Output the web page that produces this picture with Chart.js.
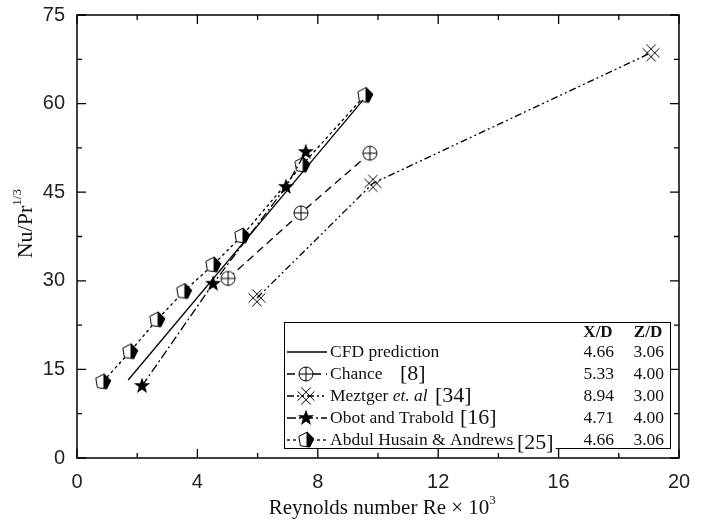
<!DOCTYPE html>
<html>
<head>
<meta charset="utf-8">
<script src="https://cdn.jsdelivr.net/npm/chart.js@4.4.0/dist/chart.umd.min.js"></script>
<style>
  html, body { margin: 0; padding: 0; background: #fff; }
  #wrap { width: 704px; height: 522px; }
</style>
</head>
<body>
<div id="wrap"><canvas id="chart" width="704" height="522"></canvas></div>
<script>
// Datos (Re x 10^3, Nu/Pr^1/3)
const cfdRe = [1.7, 9.5];
const cfdNu = [13.2, 60.6];

const chanceRe = [5.02, 7.44, 9.73];
const chanceNu = [30.4, 41.5, 51.6];

const meztgerRe = [5.98, 9.83, 19.07];
const meztgerNu = [27.1, 46.5, 68.6];

const obotRe = [2.16, 4.52, 6.94, 7.6];
const obotNu = [12.2, 29.5, 45.9, 51.8];

const abdulRe = [0.86, 1.76, 2.66, 3.55, 4.52, 5.48, 7.48, 9.57];
const abdulNu = [12.9, 18.0, 23.4, 28.2, 32.7, 37.6, 49.6, 61.4];

const xTicks = [0, 4, 8, 12, 16, 20];
const yTicks = [0, 15, 30, 45, 60, 75];

// Tabla de la leyenda: X/D y Z/D
const legendXD = ['4.66', '5.33', '8.94', '4.71', '4.66'];
const legendZD = ['3.06', '4.00', '3.00', '4.00', '3.06'];

// Marcadores dibujados en canvas pequeños
function makeMarker(draw, size) {
    const c = document.createElement('canvas');
    c.width = size; c.height = size;
    const g = c.getContext('2d');
    g.translate(size / 2, size / 2);
    g.strokeStyle = '#000';
    g.fillStyle = '#000';
    g.lineWidth = 1;
    draw(g);
    return c;
}

const crossCircle = makeMarker(g => {
    g.beginPath(); g.arc(0, 0, 7, 0, Math.PI * 2);
    g.fillStyle = '#fff'; g.fill(); g.stroke();
    g.beginPath();
    g.moveTo(-7, 0); g.lineTo(7, 0);
    g.moveTo(0, -7); g.lineTo(0, 7);
    g.stroke();
}, 18);

// rejilla en diamante: dos rectas por dirección recortadas a un cuadrado
const doubleX = makeMarker(g => {
    const h = 8.5, k = 3.8;
    g.save();
    g.beginPath(); g.rect(-h, -h, 2 * h, 2 * h); g.clip();
    g.beginPath();
    [-k, k].forEach(c => {
        g.moveTo(-h - 2, -h - 2 + c); g.lineTo(h + 2, h + 2 + c);
        g.moveTo(-h - 2, h + 2 + c); g.lineTo(h + 2, -h - 2 + c);
    });
    g.stroke();
    g.restore();
}, 22);

const star = makeMarker(g => {
    g.beginPath();
    for (let i = 0; i < 10; i++) {
        const r = i % 2 === 0 ? 8.5 : 3.4;
        const a = -Math.PI / 2 + i * Math.PI / 5;
        g.lineTo(r * Math.cos(a), r * Math.sin(a));
    }
    g.closePath(); g.fill();
}, 20);

const halfPentagon = makeMarker(g => {
    const pts = [];
    for (let i = 0; i < 5; i++) {
        const a = -Math.PI / 2 + 0.15 + i * 2 * Math.PI / 5;
        pts.push([8 * Math.cos(a), 8 * Math.sin(a)]);
    }
    const path = () => { g.beginPath(); pts.forEach(p => g.lineTo(p[0], p[1])); g.closePath(); };
    path(); g.fillStyle = '#fff'; g.fill();
    g.save(); g.beginPath(); g.rect(0.5, -10, 10, 20); g.clip();
    path(); g.fillStyle = '#000'; g.fill(); g.restore();
    path(); g.stroke();
}, 20);

function toPoints(xs, ys) {
    return xs.map((x, i) => ({ x: x, y: ys[i] }));
}

const series = [
    { label: 'CFD prediction', xs: cfdRe, ys: cfdNu, dash: [], marker: null },
    { label: 'Chance', xs: chanceRe, ys: chanceNu, dash: [8, 5], marker: crossCircle },
    { label: 'Meztger et. al', xs: meztgerRe, ys: meztgerNu, dash: [7, 3, 2, 3, 2, 3], marker: doubleX },
    { label: 'Obot and Trabold', xs: obotRe, ys: obotNu, dash: [9, 3, 2, 3], marker: star },
    { label: 'Abdul Husain & Andrews', xs: abdulRe, ys: abdulNu, dash: [3, 3], marker: halfPentagon }
];

const datasets = series.map(s => ({
    label: s.label,
    data: toPoints(s.xs, s.ys),
    showLine: true,
    borderColor: '#000',
    backgroundColor: '#000',
    borderWidth: 1.3,
    borderDash: s.dash,
    pointStyle: s.marker || 'circle',
    pointRadius: s.marker ? 8 : 0,
    pointHoverRadius: s.marker ? 8 : 0,
    tension: 0
}));

// Marco, marcas hacia dentro, títulos y leyenda tipo tabla
const decorations = {
    id: 'decorations',
    afterDraw(chart) {
        const ctx = chart.ctx;
        const xs = chart.scales.x, ys = chart.scales.y;
        const L = xs.left, R = xs.right, T = ys.top, B = ys.bottom;
        ctx.save();
        ctx.strokeStyle = '#000';
        ctx.lineWidth = 1.5;
        ctx.strokeRect(L, T, R - L, B - T);

        ctx.lineWidth = 1.3;
        ctx.beginPath();
        for (let v = 0; v <= 20; v += 2) {
            const p = xs.getPixelForValue(v);
            const len = v % 4 === 0 ? 9 : 5;
            ctx.moveTo(p, B); ctx.lineTo(p, B - len);
            ctx.moveTo(p, T); ctx.lineTo(p, T + len);
        }
        for (let v = 0; v <= 75; v += 7.5) {
            const p = ys.getPixelForValue(v);
            const len = v % 15 === 0 ? 9 : 5;
            ctx.moveTo(L, p); ctx.lineTo(L + len, p);
            ctx.moveTo(R, p); ctx.lineTo(R - len, p);
        }
        ctx.stroke();

        // Título eje X
        ctx.fillStyle = '#111';
        ctx.textBaseline = 'alphabetic';
        ctx.font = '21px "Liberation Serif"';
        const xt = 'Reynolds number Re \u00d7 10';
        const w = ctx.measureText(xt).width;
        const cx = (L + R) / 2 + 4;
        ctx.textAlign = 'left';
        ctx.fillText(xt, cx - w / 2 - 3, 514);
        ctx.font = '13px "Liberation Serif"';
        ctx.fillText('3', cx + w / 2 - 3, 504);

        // Título eje Y
        ctx.save();
        ctx.translate(32, 224);
        ctx.rotate(-Math.PI / 2);
        ctx.font = '22px "Liberation Serif"';
        const yt = 'Nu/Pr';
        const yw = ctx.measureText(yt).width;
        ctx.fillText(yt, -yw / 2 - 8, 0);
        ctx.font = '13px "Liberation Serif"';
        ctx.fillText('1/3', yw / 2 - 8, -11);
        ctx.restore();

        // Leyenda
        const bx = 284, by = 322, bw = 386, bh = 126;
        ctx.fillStyle = '#fff';
        ctx.fillRect(bx, by, bw, bh);
        ctx.lineWidth = 1;
        ctx.strokeStyle = '#000';
        ctx.strokeRect(bx + 0.5, by + 0.5, bw, bh);

        ctx.fillStyle = '#111';
        ctx.textBaseline = 'middle';
        ctx.font = 'bold 17px "Liberation Serif"';
        ctx.textAlign = 'center';
        ctx.fillText('X/D', 598, 333);
        ctx.fillText('Z/D', 648, 333);

        const refs = ['', '[8]', '[34]', '[16]', '[25]'];
        const refX = [0, 400, 435, 460, 517];
        series.forEach((s, i) => {
            const y = 352 + i * 22;
            ctx.setLineDash(s.dash);
            ctx.lineWidth = 1.3;
            ctx.beginPath(); ctx.moveTo(287, y); ctx.lineTo(327, y); ctx.stroke();
            ctx.setLineDash([]);
            if (s.marker) ctx.drawImage(s.marker, 306 - s.marker.width / 2, y - s.marker.height / 2);
            ctx.textAlign = 'left';
            ctx.font = '17.5px "Liberation Serif"';
            if (i === 2) {
                ctx.fillText('Meztger ', 330, y);
                const mw = ctx.measureText('Meztger ').width;
                ctx.font = 'italic 17.5px "Liberation Serif"';
                ctx.fillText('et. al', 330 + mw, y);
            } else {
                ctx.fillText(s.label, 330, y);
            }
            if (refs[i]) {
                ctx.font = '22px "Liberation Serif"';
                const ry = i === 4 ? y + 3 : y;
                if (i === 4) {
                    const rw = ctx.measureText(refs[i]).width;
                    ctx.fillStyle = '#fff';
                    ctx.fillRect(refX[i] - 2, ry - 11, rw + 4, 22);
                    ctx.fillStyle = '#111';
                }
                ctx.fillText(refs[i], refX[i], ry);
            }
            ctx.font = '17.5px "Liberation Serif"';
            ctx.textAlign = 'right';
            ctx.fillText(legendXD[i], 614, y);
            ctx.fillText(legendZD[i], 664, y);
        });
        ctx.restore();
    }
};

const chart = new Chart(document.getElementById('chart'), {
    type: 'scatter',
    data: { datasets: datasets },
    options: {
        responsive: false,
        animation: false,
        layout: { padding: { top: 15, right: 25, left: 0, bottom: 0 } },
        plugins: { legend: { display: false }, tooltip: { enabled: false } },
        scales: {
            x: {
                type: 'linear', min: 0, max: 20,
                grid: { display: false, drawTicks: false },
                border: { display: false },
                afterBuildTicks: axis => { axis.ticks = xTicks.map(v => ({ value: v })); },
                afterFit: axis => { axis.height = 64; axis.paddingLeft = 0; axis.paddingRight = 0; },
                ticks: {
                    padding: 12, color: '#222',
                    font: { family: '"Liberation Sans"', size: 20 },
                    maxRotation: 0
                }
            },
            y: {
                type: 'linear', min: 0, max: 75,
                grid: { display: false, drawTicks: false },
                border: { display: false },
                afterBuildTicks: axis => { axis.ticks = yTicks.map(v => ({ value: v })); },
                afterFit: axis => { axis.width = 77; axis.paddingTop = 0; axis.paddingBottom = 0; },
                ticks: {
                    padding: 12, color: '#222',
                    font: { family: '"Liberation Sans"', size: 20 }
                }
            }
        }
    },
    plugins: [decorations]
});
</script>
</body>
</html>
